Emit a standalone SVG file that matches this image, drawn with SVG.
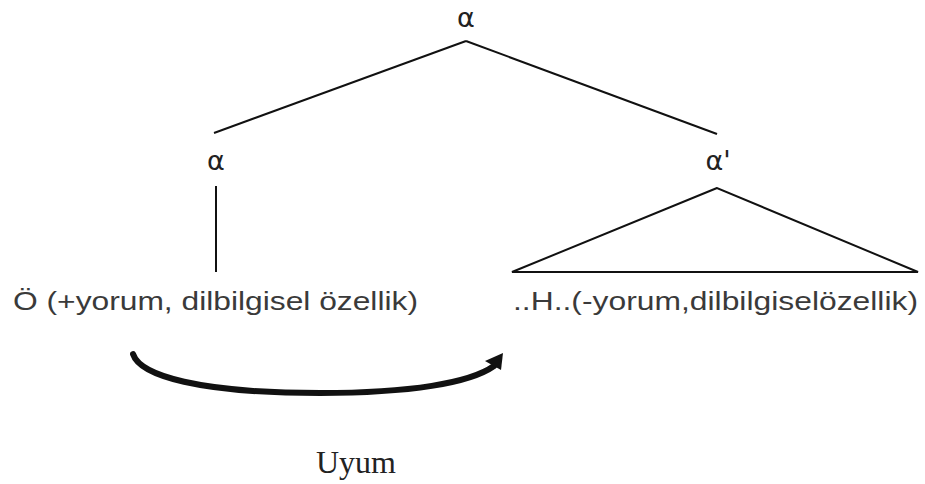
<svg xmlns="http://www.w3.org/2000/svg" width="925" height="484" viewBox="0 0 925 484">
<style>
.t{font-family:"Liberation Sans",Arial,sans-serif;font-size:26px;fill:#3a3a3a}
.g{font-family:"DejaVu Sans","Liberation Sans",sans-serif;font-size:27px;fill:#222;text-anchor:middle}
.l{stroke:#111;stroke-width:2;fill:none}
</style>
<rect width="925" height="484" fill="#fff"/>
<g id="root"><text class="g" x="466" y="27">α</text></g>
<g id="alpha-left"><text class="g" x="216" y="170">α</text></g>
<g id="alpha-right"><text class="g" x="718" y="170">α'</text></g>
<g id="leaf-left"><text class="t" x="13" y="310" textLength="405" lengthAdjust="spacingAndGlyphs">Ö (+yorum, dilbilgisel özellik)</text></g>
<g id="leaf-right"><text class="t" x="513" y="310" textLength="405" lengthAdjust="spacingAndGlyphs">..H..(-yorum,dilbilgiselözellik)</text></g>
<g id="label"><text x="356" y="473" font-family="Liberation Serif,Times New Roman,serif" font-size="32" fill="#222" text-anchor="middle">Uyum</text></g>
<g id="connectors">
<line class="l" x1="466" y1="41" x2="214" y2="133"/>
<line class="l" x1="466" y1="41" x2="717" y2="134"/>
<line class="l" x1="216" y1="186" x2="216" y2="272"/>
<path class="l" d="M717 188 L512 272 L918 272 Z" stroke-width="2.2"/>
<path d="M133 354 C140 376 200 393 320 393 C410 393 470 383 494 366" fill="none" stroke="#111" stroke-width="6" stroke-linecap="round"/>
<path d="M485 361 L503 353 L501 370 Z" fill="#111"/>
</g>
</svg>
